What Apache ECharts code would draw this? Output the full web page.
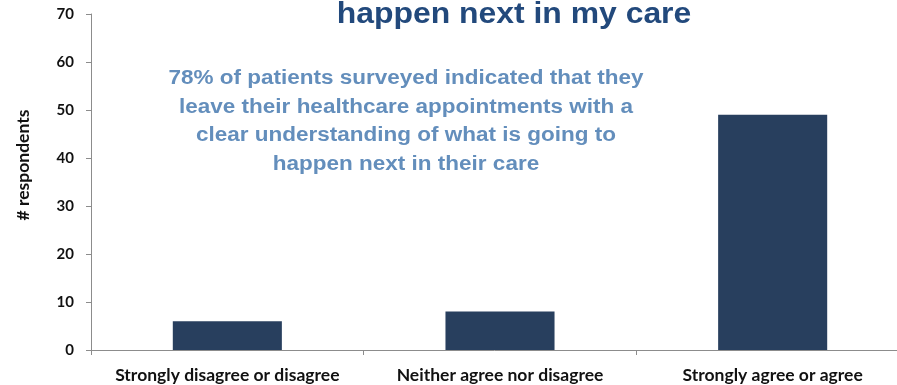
<!DOCTYPE html>
<html>
<head>
<meta charset="utf-8">
<script src="https://cdn.jsdelivr.net/npm/echarts@6/dist/echarts.min.js"></script>
<style>
  html, body { margin: 0; padding: 0; background: #ffffff; }
  #chart { width: 897px; height: 385px; }
</style>
</head>
<body>
<div id="chart"></div>
<script>
// Survey responses: how many respondents chose each answer
const categories = ['Strongly disagree or disagree', 'Neither agree nor disagree', 'Strongly agree or agree'];
const respondents = [6, 8, 49];
const yTicks = { min: 0, max: 70, interval: 10 };

const titleText = 'happen next in my care';
const noteLines = [
  '78% of patients surveyed indicated that they',
  'leave their healthcare appointments with a',
  'clear understanding of what is going to',
  'happen next in their care'
];

const chart = echarts.init(document.getElementById('chart'), null, { renderer: 'canvas' });

const labelFont = 'Lato, "Open Sans", sans-serif';
const headFont = '"Liberation Sans", Arial, sans-serif';

chart.setOption({
  animation: false,
  backgroundColor: '#ffffff',
  // plot area runs past the right edge of the canvas
  grid: {
    left: 91, top: 14, height: 336, width: 818,
    containLabel: false,
    outerBoundsMode: 'none'
  },
  xAxis: {
    type: 'category',
    data: categories,
    axisLine: { show: true, lineStyle: { color: '#8c8c8c', width: 1 } },
    axisTick: { show: true, interval: 0, length: 5, lineStyle: { color: '#8c8c8c' } },
    axisLabel: {
      interval: 0,
      hideOverlap: false,
      margin: 16,
      fontFamily: labelFont,
      fontWeight: 'bold',
      fontSize: 17.5,
      color: '#111111'
    }
  },
  yAxis: {
    type: 'value',
    min: yTicks.min,
    max: yTicks.max,
    interval: yTicks.interval,
    name: '# respondents',
    nameLocation: 'middle',
    nameRotate: 90,
    nameGap: 59,
    nameTextStyle: {
      fontFamily: labelFont,
      fontWeight: 'bold',
      fontSize: 17.5,
      color: '#111111',
      padding: [0, 0, 0, 34]
    },
    splitLine: { show: false },
    axisLine: { show: true, lineStyle: { color: '#8c8c8c', width: 1 } },
    axisTick: { show: true, length: 5, lineStyle: { color: '#8c8c8c' } },
    axisLabel: {
      margin: 17,
      fontFamily: labelFont,
      fontWeight: 'bold',
      fontSize: 15,
      color: '#111111'
    }
  },
  series: [{
    type: 'bar',
    data: respondents,
    barWidth: '40%',
    itemStyle: { color: '#283F5E' },
    silent: true
  }],
  graphic: [{
    // last line of the chart heading, partly above the canvas
    type: 'text',
    x: 514,
    y: 0,
    scaleX: 1.1,
    style: {
      text: titleText,
      align: 'center',
      verticalAlign: 'top',
      fontFamily: headFont,
      fontWeight: 'bold',
      fontSize: 29,
      fill: '#22497C'
    }
  }, {
    type: 'text',
    x: 406,
    y: 64,
    scaleX: 1.125,
    style: {
      text: noteLines.join('\n'),
      align: 'center',
      verticalAlign: 'top',
      fontFamily: headFont,
      fontWeight: 'bold',
      fontSize: 20,
      lineHeight: 28.7,
      fill: '#638EBC'
    }
  }]
});
</script>
</body>
</html>
